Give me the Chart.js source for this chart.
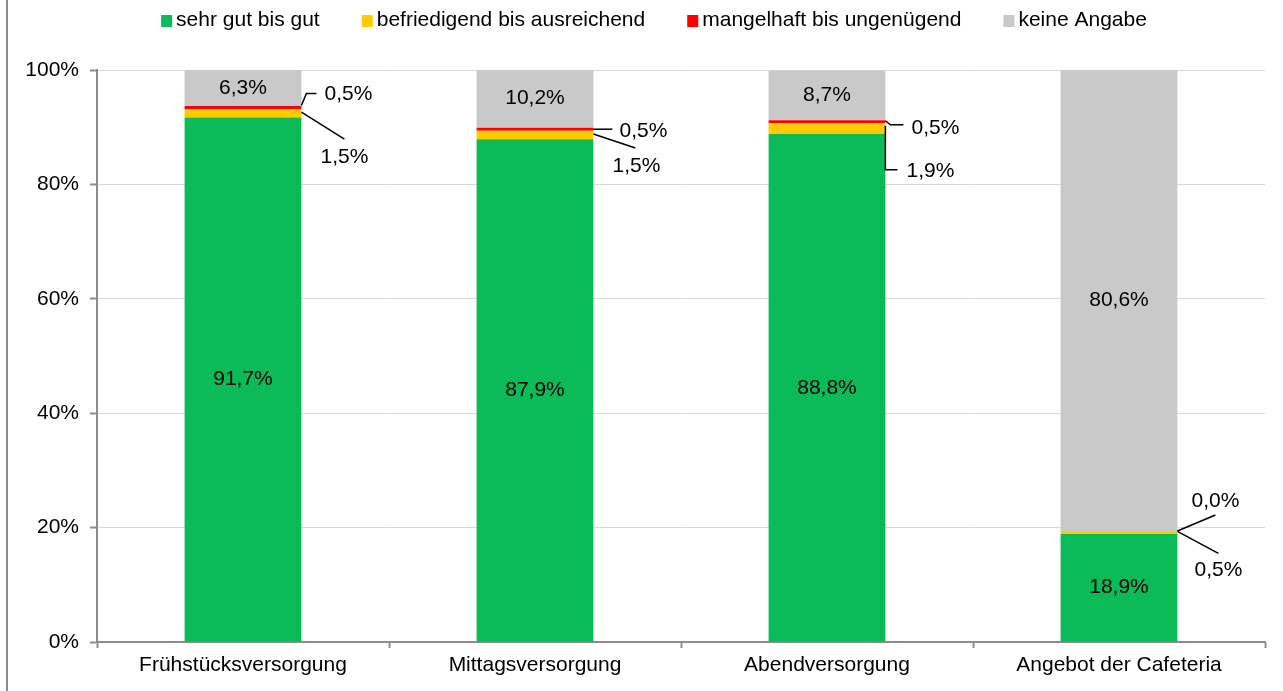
<!DOCTYPE html>
<html><head><meta charset="utf-8">
<script src="https://cdn.jsdelivr.net/npm/chart.js@4.4.1/dist/chart.umd.min.js"></script>
<style>
html,body{margin:0;padding:0;background:#fff;}
#wrap{position:relative;width:1283px;height:691px;overflow:hidden;}
#frame{position:absolute;left:6px;top:0;width:2px;height:691px;background:#8c8c8c;}
canvas{position:absolute;left:0;top:0;}
</style></head><body>
<div id="wrap"><canvas id="c" width="1283" height="691"></canvas><div id="frame"></div></div>
<script>
const categories = ['Frühstücksversorgung', 'Mittagsversorgung', 'Abendversorgung', 'Angebot der Cafeteria'];
const seriesNames = ['sehr gut bis gut', 'befriedigend bis ausreichend', 'mangelhaft bis ungenügend', 'keine Angabe'];
const sehrGut = [91.7, 87.9, 88.8, 18.9];
const befriedigend = [1.5, 1.5, 1.9, 0.5];
const mangelhaft = [0.5, 0.5, 0.5, 0.0];
const keineAngabe = [6.3, 10.2, 8.7, 80.6];
const yTicks = [0, 20, 40, 60, 80, 100];
const yTickLabels = ['0%', '20%', '40%', '60%', '80%', '100%'];

const colors = ['#0BBB57', '#FFCC00', '#FF0000', '#C9C9C9'];
const FAMILY = '"Liberation Sans", Arial, sans-serif';
const FS = 21;
const FONT = FS + 'px ' + FAMILY;
const fmt = v => v.toFixed(1).replace('.', ',') + '%';

// label placement (pixel offsets relative to the segment anchor on the bar's right edge)
const insideSeries = [0, 3];
const callouts = [
  {ds: 2, i: 0, path: [[0, -2], [5, -14], [15, -14]], text: [47, -13]},
  {ds: 1, i: 0, path: [[0, -1], [43, 26]], text: [43, 44]},
  {ds: 2, i: 1, path: [[0, 0], [19, 0]], text: [50, 2]},
  {ds: 1, i: 1, path: [[0, -1], [42, 13]], text: [43, 31]},
  {ds: 2, i: 2, path: [[0, -1], [5, 3], [18, 3]], text: [50, 6]},
  {ds: 1, i: 2, path: [[0, -3], [0, 41], [12, 41]], text: [45, 43]},
  {ds: 2, i: 3, path: [[0, 0], [38, -16]], text: [38, -30]},
  {ds: 1, i: 3, path: [[0, -1], [41, 21]], text: [41, 38]}
];

const labelPlugin = {
  id: 'labels',
  afterDatasetsDraw(chart) {
    const ctx = chart.ctx;
    ctx.save();
    ctx.font = FONT;
    ctx.fillStyle = '#000';
    ctx.textAlign = 'center';
    ctx.textBaseline = 'middle';
    insideSeries.forEach(ds => {
      const meta = chart.getDatasetMeta(ds);
      meta.data.forEach((el, i) => {
        const v = chart.data.datasets[ds].data[i];
        ctx.fillText(fmt(v), el.x, (el.y + el.base) / 2);
      });
    });
    ctx.strokeStyle = '#000';
    ctx.lineWidth = 1.5;
    callouts.forEach(c => {
      const el = chart.getDatasetMeta(c.ds).data[c.i];
      const ax = el.x + el.width / 2;
      const ay = (el.y + el.base) / 2;
      ctx.beginPath();
      c.path.forEach((p, k) => {
        if (k === 0) ctx.moveTo(ax + p[0], ay + p[1]); else ctx.lineTo(ax + p[0], ay + p[1]);
      });
      ctx.stroke();
      ctx.fillText(fmt(chart.data.datasets[c.ds].data[c.i]), ax + c.text[0], ay + c.text[1]);
    });
    ctx.restore();
  }
};

const legendPlugin = {
  id: 'customLegend',
  afterDraw(chart) {
    const ctx = chart.ctx;
    ctx.save();
    ctx.font = FONT;
    const box = 11, gap = 4, spacing = 42;
    const items = chart.data.datasets.map(d => ({text: d.label, color: d.backgroundColor, w: ctx.measureText(d.label).width}));
    const total = items.reduce((s, it) => s + box + gap + it.w, 0) + spacing * (items.length - 1);
    let x = 654 - total / 2;
    const cy = 20;
    ctx.textBaseline = 'middle';
    ctx.textAlign = 'left';
    items.forEach(it => {
      ctx.fillStyle = it.color;
      ctx.fillRect(x, cy - 5, box, box + 1);
      ctx.fillStyle = '#000';
      ctx.fillText(it.text, x + box + gap, cy);
      x += box + gap + it.w + spacing;
    });
    ctx.restore();
  }
};

const seriesValues = [sehrGut, befriedigend, mangelhaft, keineAngabe];

new Chart(document.getElementById('c'), {
  type: 'bar',
  data: {
    labels: categories,
    datasets: seriesNames.map((n, k) => ({
      label: n,
      data: seriesValues[k],
      backgroundColor: colors[k],
      borderWidth: 0,
      barPercentage: 0.4,
      categoryPercentage: 1.0
    }))
  },
  options: {
    responsive: false,
    animation: false,
    devicePixelRatio: 1,
    layout: {padding: {top: 70, right: 18, left: 0, bottom: 0}},
    plugins: {legend: {display: false}, tooltip: {enabled: false}},
    scales: {
      x: {
        stacked: true,
        grid: {display: true, drawOnChartArea: false, drawTicks: true, tickLength: 6, tickColor: '#8c8c8c', tickWidth: 2, offset: true},
        border: {display: true, color: '#8c8c8c', width: 2},
        ticks: {color: '#000', font: {family: FAMILY, size: FS}, padding: 5, maxRotation: 0},
        afterFit: s => { s.height = 49; }
      },
      y: {
        stacked: true,
        min: 0, max: 100,
        afterBuildTicks: s => { s.ticks = yTicks.map(v => ({value: v})); },
        grid: {color: '#d9d9d9', lineWidth: 1, tickLength: 7, tickColor: '#8c8c8c', tickWidth: 2},
        border: {display: true, color: '#8c8c8c', width: 2},
        ticks: {color: '#000', font: {family: FAMILY, size: FS}, padding: 11,
          callback: v => yTickLabels[yTicks.indexOf(v)]},
        afterFit: s => { s.width = 97; }
      }
    }
  },
  plugins: [labelPlugin, legendPlugin]
});
</script>
</body></html>
